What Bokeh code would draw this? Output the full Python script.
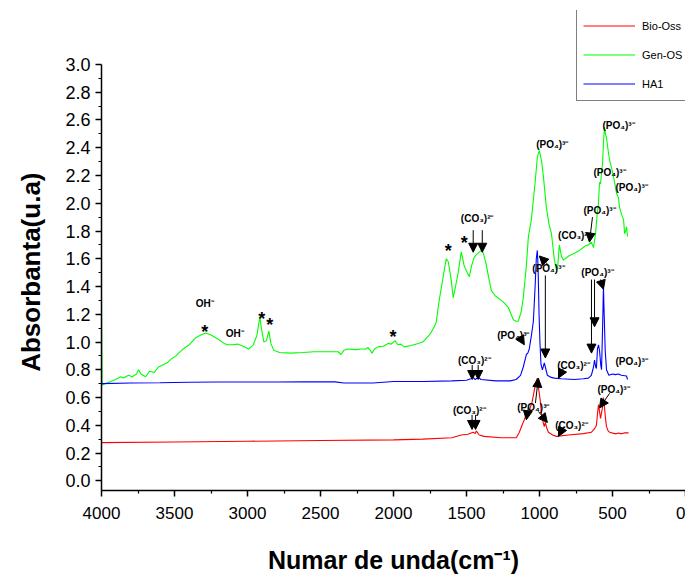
from bokeh.plotting import figure
from bokeh.models import Range1d, FixedTicker, ColumnDataSource, Arrow, NormalHead, CustomJSTickFormatter
from bokeh.core.properties import value
from bokeh.embed import file_html
from bokeh.resources import INLINE

# ---------------- data ----------------
series_names = ["Bio-Oss", "Gen-OS", "HA1"]

green_wn = [4000, 3996, 3950, 3904, 3870, 3850, 3815, 3790, 3760, 3746, 3730, 3698, 3670, 3640, 3610,
            3581, 3550, 3520, 3490, 3472, 3440, 3400, 3355, 3320, 3286, 3250, 3200, 3160, 3135, 3100,
            3067, 3030, 2991, 2960, 2935, 2916, 2905, 2888, 2870, 2854, 2840, 2820, 2780, 2703, 2620,
            2545, 2460, 2380, 2360, 2340, 2312, 2260, 2222, 2190, 2174, 2147, 2130, 2106, 2070, 2037,
            2015, 1990, 1970, 1950, 1927, 1880, 1831, 1800, 1763, 1742, 1721, 1708, 1687, 1660, 1639,
            1625, 1605, 1591, 1575, 1557, 1536, 1516, 1495, 1481, 1465, 1447, 1433, 1399, 1385, 1365,
            1351, 1330, 1300, 1262, 1240, 1214, 1195, 1179, 1160, 1145, 1125, 1111, 1090, 1076, 1056,
            1030, 1015, 1001, 985, 973, 953, 935, 918, 898, 884, 875, 864, 850, 836, 800, 760, 726,
            690, 665, 645, 630, 616, 605, 596, 589, 582, 575, 568, 561, 555, 548, 541, 530, 520, 505,
            493, 480, 472, 459, 452, 438, 424, 417, 410, 404, 397]
green_abs = [1.30, 0.69, 0.71, 0.73, 0.75, 0.74, 0.76, 0.75, 0.77, 0.80, 0.77, 0.75, 0.79, 0.78, 0.82,
             0.835, 0.85, 0.88, 0.90, 0.92, 0.95, 0.98, 1.03, 1.05, 1.065, 1.05, 1.02, 0.99, 0.98, 0.98,
             0.985, 0.97, 0.95, 0.98, 1.05, 1.18, 1.10, 1.00, 1.01, 1.08, 0.99, 0.94, 0.925, 0.92, 0.925,
             0.93, 0.93, 0.93, 0.91, 0.94, 0.95, 0.945, 0.95, 0.95, 0.96, 0.92, 0.95, 0.965, 0.97, 0.99,
             0.985, 1.01, 0.98, 0.985, 0.965, 0.975, 0.99, 1.00, 1.04, 1.07, 1.11, 1.14, 1.30, 1.47, 1.60,
             1.58, 1.45, 1.32, 1.40, 1.50, 1.65, 1.55, 1.50, 1.47, 1.55, 1.61, 1.63, 1.66, 1.64, 1.56,
             1.48, 1.37, 1.33, 1.30, 1.28, 1.25, 1.20, 1.16, 1.15, 1.15, 1.22, 1.32, 1.55, 1.76, 1.88,
             2.15, 2.33, 2.38, 2.30, 2.19, 1.97, 1.85, 1.78, 1.59, 1.52, 1.55, 1.70, 1.62, 1.59, 1.62, 1.64, 1.66,
             1.69, 1.70, 1.72, 1.68, 1.78, 1.92, 2.00, 2.15, 2.14, 2.22, 2.29, 2.45, 2.55, 2.50, 2.47, 2.38, 2.31, 2.25,
             2.19, 2.12, 2.07, 2.04, 1.97, 1.92, 1.88, 1.78, 1.80, 1.83, 1.76]

blue_wn = [4000, 3800, 3600, 3400, 3200, 3000, 2800, 2600, 2400, 2340, 2140, 2000, 1800, 1600, 1500,
           1470, 1455, 1440, 1420, 1400, 1300, 1200, 1160, 1130, 1111, 1090, 1080, 1070, 1055, 1042,
           1030, 1022, 1015, 1010, 1003, 997, 990, 980, 967, 960, 946, 920, 898, 850, 760, 700, 665,
           645, 630, 623, 615, 610, 603, 596, 589, 580, 575, 568, 562, 557, 550, 541, 525, 500, 480,
           459, 440, 404, 397]
blue_abs = [0.70, 0.705, 0.707, 0.71, 0.712, 0.712, 0.712, 0.713, 0.713, 0.705, 0.705, 0.715, 0.716, 0.72, 0.725,
            0.735, 0.745, 0.73, 0.745, 0.73, 0.72, 0.72, 0.73, 0.76, 0.82, 0.91, 0.92, 0.95, 1.05, 1.15,
            1.40, 1.60, 1.66, 1.55, 1.20, 1.00, 0.84, 0.80, 0.85, 0.82, 0.76, 0.745, 0.74, 0.735, 0.73, 0.735, 0.74,
            0.76, 0.82, 0.87, 0.82, 0.81, 0.95, 0.98, 0.94, 0.83, 0.80, 1.10, 1.40, 1.20, 0.94, 0.80, 0.76, 0.77, 0.765,
            0.77, 0.76, 0.755, 0.73]

red_wn = [4000, 3500, 3000, 2500, 2000, 1800, 1600, 1536, 1490, 1468, 1454, 1440, 1433, 1413, 1380,
          1262, 1159, 1138, 1120, 1104, 1090, 1069, 1050, 1035, 1022, 1015, 1008, 995, 987, 975, 967,
          960, 950, 939, 910, 884, 802, 700, 644, 620, 610, 603, 596, 589, 582, 570, 562, 555, 548,
          541, 530, 520, 486, 470, 459, 445, 438, 420, 400, 390]
red_abs = [0.275, 0.28, 0.285, 0.29, 0.295, 0.30, 0.31, 0.33, 0.335, 0.345, 0.35, 0.34, 0.36, 0.33, 0.32,
           0.31, 0.31, 0.35, 0.40, 0.44, 0.48, 0.51, 0.57, 0.655, 0.72, 0.74, 0.68, 0.58, 0.49, 0.42, 0.39,
           0.42, 0.38, 0.35, 0.33, 0.32, 0.33, 0.34, 0.35, 0.38, 0.40, 0.48, 0.55, 0.50, 0.45, 0.52, 0.60, 0.53, 0.45,
           0.39, 0.36, 0.35, 0.34, 0.34, 0.345, 0.34, 0.34, 0.345, 0.345, 0.345]

label_text = ["OH⁻", "OH⁻", "(CO₃)²⁻", "(PO₄)³⁻", "(PO₄)³⁻", "(PO₄)³⁻", "(PO₄)³⁻", "(PO₄)³⁻",
              "(CO₃)²⁻", "(PO₄)³⁻", "(PO₄)³⁻", "(PO₄)³⁻", "(CO₃)²⁻", "(PO₄)³⁻", "(CO₃)²⁻",
              "(CO₃)²⁻", "(PO₄)³⁻", "(CO₃)²⁻", "(PO₄)³⁻"]
label_wn = [3293, 3087, 1427, 912, 459, 520, 369, 589, 761, 939, 603, 369, 767, 1179, 1447,
            1481, 1042, 781, 493]
label_abs = [1.28, 1.06, 1.89, 2.42, 2.56, 2.22, 2.11, 1.95, 1.77, 1.53, 1.50, 0.86, 0.83, 1.05, 0.87,
             0.51, 0.53, 0.40, 0.655]

star_wn = [3293, 2902, 2847, 2003, 1625, 1516]
star_abs = [1.115, 1.21, 1.165, 1.08, 1.70, 1.755]

arrow_x0 = [1454, 1392, 637, 932, 960, 623, 644, 582, 836, 1138, 1461, 1420, 1462, 1438, 1028, 1076, 1008, 836, 520]
arrow_y0 = [1.806, 1.806, 1.90, 1.547, 1.48, 1.45, 1.45, 1.45, 0.81, 1.04, 0.835, 0.835, 0.475, 0.475, 0.56, 0.53, 0.50, 0.39, 0.63]
arrow_x1 = [1454, 1392, 658, 1001, 960, 623, 644, 562, 870, 1104, 1461, 1420, 1462, 1438, 1008, 1090, 946, 870, 589]
arrow_y1 = [1.647, 1.647, 1.72, 1.62, 0.885, 1.11, 0.92, 1.38, 0.74, 0.98, 0.73, 0.73, 0.37, 0.37, 0.74, 0.44, 0.42, 0.32, 0.525]

x_ticks = [4000, 3500, 3000, 2500, 2000, 1500, 1000, 500, 0]
x_minor = [3750, 3250, 2750, 2250, 1750, 1250, 750, 250]
y_ticks = [0.0, 0.2, 0.4, 0.6, 0.8, 1.0, 1.2, 1.4, 1.6, 1.8, 2.0, 2.2, 2.4, 2.6, 2.8, 3.0]
y_minor = [0.1, 0.3, 0.5, 0.7, 0.9, 1.1, 1.3, 1.5, 1.7, 1.9, 2.1, 2.3, 2.5, 2.7, 2.9]

x_title = "Numar de unda(cm⁻¹)"
y_title = "Absorbanta(u.a)"

# ---------------- figure ----------------
FONT = "Liberation Sans"
Y0, Y1, YTOP = -0.07, 3.0, 3.389
p = figure(width=685, height=576, x_range=Range1d(4000, 0), y_range=Range1d(Y0, YTOP),
           output_backend="svg", toolbar_location=None,
           min_border_left=101, min_border_right=0, min_border_top=10, min_border_bottom=86)
p.outline_line_color = None
p.xgrid.visible = False
p.ygrid.visible = False
p.background_fill_color = "white"
p.border_fill_color = "white"

p.line(red_wn, red_abs, line_color="#ff0000", line_width=1.1, legend_label=series_names[0])
p.line(green_wn, green_abs, line_color="#00ff00", line_width=1.1, legend_label=series_names[1])
p.line(blue_wn, blue_abs, line_color="#0000ff", line_width=1.1, legend_label=series_names[2])

lab_src = ColumnDataSource(dict(x=label_wn, y=label_abs, t=label_text))
p.text(x="x", y="y", text="t", source=lab_src, text_font=value(FONT), text_font_style="bold",
       text_font_size="10px", text_align="center", text_baseline="middle", text_color="black")
star_src = ColumnDataSource(dict(x=star_wn, y=star_abs, t=["*"] * len(star_wn)))
p.text(x="x", y="y", text="t", source=star_src, text_font=value(FONT), text_font_style="bold",
       text_font_size="18px", text_align="center", text_baseline="middle", text_color="black",
       y_offset=6)

arr_src = ColumnDataSource(dict(x0=arrow_x0, y0=arrow_y0, x1=arrow_x1, y1=arrow_y1))
p.add_layout(Arrow(x_start="x0", y_start="y0", x_end="x1", y_end="y1", source=arr_src,
                   line_color="black", line_width=1,
                   end=NormalHead(size=9, fill_color="black", line_color="black", line_width=1)))

# axes
xa = p.xaxis[0]
xa.ticker = FixedTicker(ticks=x_ticks, minor_ticks=x_minor)
xa.axis_label = x_title
ya = p.yaxis[0]
ya.ticker = FixedTicker(ticks=y_ticks, minor_ticks=y_minor)
ya.formatter = CustomJSTickFormatter(code="return tick.toFixed(1);")
# trailing no-break spaces shift the centred vertical title down to the reference's position
ya.axis_label = y_title + "\u00a0" * 6
ya.bounds = (Y0, Y1)
for ax in (xa, ya):
    ax.axis_line_color = "black"
    ax.axis_line_width = 1.5
    ax.major_tick_line_color = "black"
    ax.major_tick_line_width = 1.5
    ax.minor_tick_line_color = "black"
    ax.minor_tick_line_width = 1.2
    ax.major_tick_out = 6
    ax.major_tick_in = 0
    ax.minor_tick_out = 3
    ax.minor_tick_in = 0
    ax.major_label_text_font = FONT
    ax.major_label_text_color = "black"
    ax.axis_label_text_font = FONT
    ax.axis_label_text_font_style = "bold"
    ax.axis_label_text_color = "black"
xa.major_label_text_font_size = "17px"
ya.major_label_text_font_size = "18px"
xa.axis_label_text_font_size = "25px"
ya.axis_label_text_font_size = "26px"
xa.major_label_standoff = 10
xa.axis_label_standoff = 24
ya.major_label_standoff = 5
ya.axis_label_standoff = 16

leg = p.legend[0]
leg.location = (475, 389)
leg.border_line_color = "black"
leg.border_line_width = 1
leg.background_fill_color = "white"
leg.background_fill_alpha = 1
leg.label_text_font = FONT
leg.label_text_font_size = "11px"
leg.label_text_color = "black"
leg.glyph_width = 52
leg.glyph_height = 21
leg.spacing = 8
leg.padding = 6
leg.margin = 0
leg.label_standoff = 7

open("out.html", "w").write(file_html(p, INLINE))
